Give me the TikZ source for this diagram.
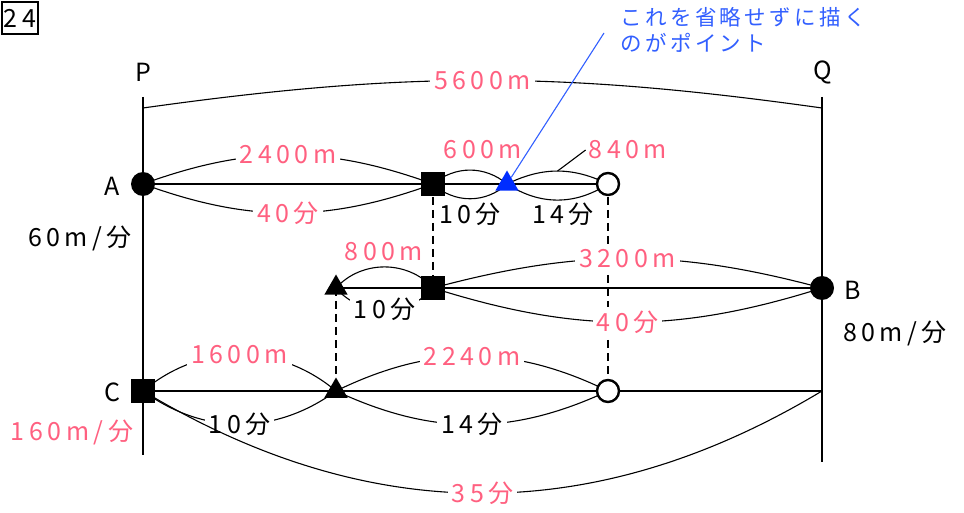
\documentclass[tikz,border=0pt]{standalone}
\usepackage{fontspec}
\setmainfont{Noto Sans CJK JP}
\newfontfamily\labfam{Noto Sans CJK JP}[LetterSpace=18]
\newfontfamily\notefam{Noto Sans CJK JP}[LetterSpace=16]
\usetikzlibrary{shapes.geometric,backgrounds}
\definecolor{pk}{RGB}{255,96,128}
\definecolor{bl}{RGB}{50,95,255}
\definecolor{tb}{RGB}{0,45,255}
\newcommand\labf{\labfam\fontsize{25}{28}\selectfont}
\newcommand\notef{\notefam\fontsize{21.5}{26}\selectfont}
\begin{document}
\begin{tikzpicture}[x=1pt,y=1pt,
  mainline/.style={line width=2.6pt},
  thinarc/.style={line width=1.1pt},
  dashline/.style={line width=2.4pt, dash pattern=on 8pt off 5pt},
  dot/.style={circle, fill=black, minimum size=24pt, inner sep=0pt},
  sq/.style={rectangle, fill=black, minimum size=24pt, inner sep=0pt},
  ring/.style={circle, draw=black, fill=white, line width=2.4pt, minimum size=22pt, inner sep=0pt},
  tri/.style={regular polygon, regular polygon sides=3, fill=black, minimum size=27pt, inner sep=0pt},
  pklab/.style={text=pk, font=\labf, inner sep=3pt},
  bklab/.style={text=black, font=\labf, inner sep=3pt},
  onarc/.style={fill=white, inner sep=4pt}
]
\useasboundingbox (0,0) rectangle (964,512);

% markers
\node[dot] (A) at (143,328) {};
\node[sq] (S1) at (433,328) {};
\node[tri, fill=tb] (T1) at (507,328) {};
\node[ring] (O1) at (608,328) {};
\node[tri] (T3) at (336,224) {};
\node[sq] (S2) at (433,224) {};
\node[dot] (B) at (822,224) {};
\node[sq] (C) at (143,121) {};
\node[tri] (T2) at (336,121) {};
\node[ring] (O2) at (608,121) {};
\coordinate (Qc) at (822,121);
\coordinate (Pt) at (143,415);
\coordinate (Pb) at (143,57);
\coordinate (Qt) at (822,415);
\coordinate (Qb) at (822,50);
\coordinate (P5) at (143,404);
\coordinate (Q5) at (822,404);
\coordinate (bnote) at (604,479);

% text labels
\node[bklab] (lP) at (143,440) {P};
\node[bklab] (lQ) at (823,440) {Q};
\node[bklab] (lA) at (112,326) {A};
\node[bklab] (lB) at (853,222) {B};
\node[bklab] (lC) at (112,120) {C};
\node[bklab] (v60) at (80,274) {60m/分};
\node[bklab] (v80) at (895,179) {80m/分};
\node[pklab] (v160) at (72,80) {160m/分};
\node[draw, line width=1.4pt, minimum width=36pt, minimum height=32pt, inner sep=0pt, font=\labf] (num) at (20,494) {24};
\node[text=bl, font=\notef, anchor=west, inner sep=0pt] (note1) at (620,495) {これを省略せずに描く};
\node[text=bl, font=\notef, anchor=west, inner sep=0pt] (note2) at (620,469) {のがポイント};

\node[pklab] (L600) at (483,362) {600m};
\node[bklab] (L10a) at (470,298) {10分};
\node[pklab] (L840) at (628,362) {840m};
\node[bklab] (L14a) at (563,298) {14分};
\node[pklab] (L800) at (384,260) {800m};

\begin{pgfonlayer}{background}
  % verticals
  \draw[mainline] (Pt) -- (Pb);
  \draw[mainline] (Qt) -- (Qb);
  % horizontals
  \draw[mainline] (A.center) -- (O1.center);
  \draw[mainline] (T3.center) -- (B.center);
  \draw[mainline] (C.center) -- (Qc);
  % dashed
  \draw[dashline] (S1.center) -- (S2.center);
  \draw[dashline] (O1.center) -- (O2.center);
  \draw[dashline] (T3.center) -- (T2.center);
  % arcs
  \draw[thinarc] (P5) to[bend left=8] node[pklab, onarc] (L5600) {5600m} (Q5);
  \draw[thinarc] (A.center) to[bend left=20] node[pklab, onarc] (L2400) {2400m} (S1.center);
  \draw[thinarc] (A.center) to[bend right=20] node[pklab, onarc] (L40a) {40分} (S1.center);
  \draw[thinarc] (S1.center) to[bend left=40] (T1.center);
  \draw[thinarc] (S1.center) to[bend right=43] (T1.center);
  \draw[thinarc] (T1.center) to[bend left=26] coordinate[pos=0.5] (m840) (O1.center);
  \draw[thinarc] (T1.center) to[bend right=33] (O1.center);
  \draw[thinarc] (m840) -- (L840.west);
  \draw[thinarc] (T3.center) to[bend left=48] (S2.center);
  \draw[thinarc] (T3.center) to[bend right=50] node[bklab, onarc] (L10b) {10分} (S2.center);
  \draw[thinarc] (S2.center) to[bend left=15] node[pklab, onarc] (L3200) {3200m} (B.center);
  \draw[thinarc] (S2.center) to[bend right=17.5] node[pklab, onarc] (L40b) {40分} (B.center);
  \draw[thinarc] (C.center) to[bend left=40] node[pklab, onarc] (L1600) {1600m} (T2.center);
  \draw[thinarc] (C.center) to[bend right=36] node[bklab, onarc] (L10c) {10分} (T2.center);
  \draw[thinarc] (T2.center) to[bend left=26] node[pklab, onarc] (L2240) {2240m} (O2.center);
  \draw[thinarc] (T2.center) to[bend right=25] node[bklab, onarc] (L14c) {14分} (O2.center);
  \draw[thinarc] (C.center) to[bend right=31] node[pklab, onarc] (L35) {35分} (Qc);
\end{pgfonlayer}
\draw[bl, line width=1.1pt] (bnote) -- (T1);
\end{tikzpicture}
\end{document}
